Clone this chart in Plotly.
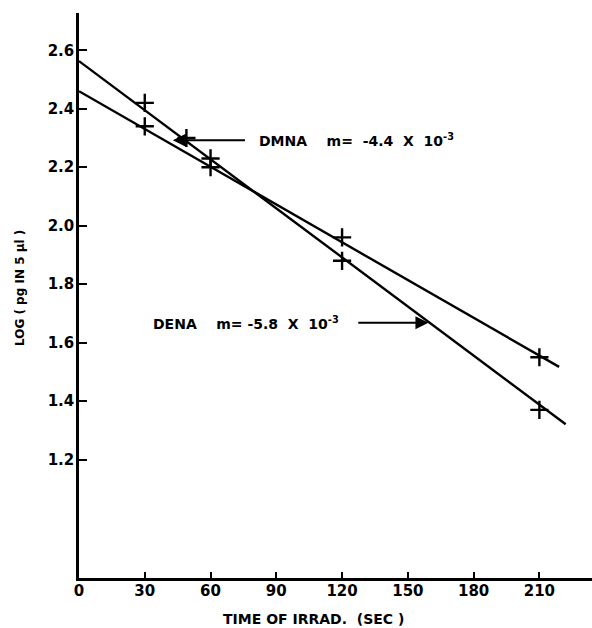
import plotly.graph_objects as go

# ---- data ----
time_sec = [30, 49, 60, 120, 210]
dena_log = [2.42, 2.30, 2.23, 1.88, 1.37]

time_dmna = [30, 60, 120, 210]
dmna_log = [2.34, 2.20, 1.96, 1.55]

# fitted straight lines (end points)
dena_fit_x = [0, 222]
dena_fit_y = [2.563, 1.321]
dmna_fit_x = [0, 219]
dmna_fit_y = [2.460, 1.517]

x_ticks = [0, 30, 60, 90, 120, 150, 180, 210]
y_ticks = [1.2, 1.4, 1.6, 1.8, 2.0, 2.2, 2.4, 2.6]
y_tick_text = ["1.2", "1.4", "1.6", "1.8", "2.0", "2.2", "2.4", "2.6"]

FONT = "DejaVu Sans"
W, H = 592, 628
ml, mr, mt, mb = 79, 0, 13, 50
pw, ph = W - ml - mr, H - mt - mb

fig = go.Figure()
for fx, fy in [(dena_fit_x, dena_fit_y), (dmna_fit_x, dmna_fit_y)]:
    fig.add_trace(go.Scatter(x=fx, y=fy, mode="lines",
                             line=dict(color="black", width=2.4), showlegend=False))
for px_, py_ in [(time_sec, dena_log), (time_dmna, dmna_log)]:
    fig.add_trace(go.Scatter(x=px_, y=py_, mode="markers",
                             marker=dict(symbol="cross-thin", size=13,
                                         line=dict(color="black", width=2.4)),
                             showlegend=False))

tickfont = dict(family=FONT, size=15, color="black", weight="bold")
fig.update_xaxes(range=[0, 234], tickvals=x_ticks, ticktext=[str(v) for v in x_ticks],
                 ticks="inside", ticklen=6, tickwidth=2, tickcolor="black",
                 showline=True, linecolor="black", linewidth=2.5,
                 showgrid=False, zeroline=False, tickfont=tickfont,
                 ticklabelstandoff=-3)
fig.update_yaxes(range=[0.795, 2.7275], tickvals=y_ticks, ticktext=y_tick_text,
                 ticks="inside", ticklen=8, tickwidth=2, tickcolor="black",
                 showline=True, linecolor="black", linewidth=2.5,
                 showgrid=False, zeroline=False, tickfont=tickfont,
                 ticklabelstandoff=-1)

annfont = dict(family=FONT, size=14, color="black", weight="bold")
sp = "&nbsp;"
# DMNA label + arrow
fig.add_annotation(x=42.8, y=2.292, ax=76.4, ay=2.292, axref="x", ayref="y",
                   xref="x", yref="y", text="", showarrow=True,
                   arrowhead=2, arrowsize=1.3, arrowwidth=2, arrowcolor="black")
fig.add_annotation(x=81.0, y=2.292, xref="x", yref="y", xanchor="left", yanchor="middle",
                   text=f"DMNA{sp*4}m={sp*2}-4.4{sp*2}X{sp*2}10<sup>-3</sup>", showarrow=False,
                   font=annfont)
# DENA label + arrow
fig.add_annotation(x=159.4, y=1.668, ax=126.7, ay=1.668, axref="x", ayref="y",
                   xref="x", yref="y", text="", showarrow=True,
                   arrowhead=2, arrowsize=1.3, arrowwidth=2, arrowcolor="black")
fig.add_annotation(x=33.0, y=1.668, xref="x", yref="y", xanchor="left", yanchor="middle",
                   text=f"DENA{sp*4}m={sp}-5.8{sp*2}X{sp*2}10<sup>-3</sup>", showarrow=False,
                   font=annfont)

# axis titles (positioned in paper coordinates)
titlefont = dict(family=FONT, size=14, color="black", weight="bold")
fig.add_annotation(x=(313 - ml) / pw, y=1 - (619 - mt) / ph, xref="paper", yref="paper",
                   xanchor="center", yanchor="middle",
                   text=f"TIME OF IRRAD.{sp*2}(SEC )", showarrow=False, font=titlefont)
fig.add_annotation(x=(20 - ml) / pw, y=1 - (288 - mt) / ph, xref="paper", yref="paper",
                   xanchor="center", yanchor="middle",
                   text="LOG ( pg IN 5 μl )", showarrow=False, textangle=-90,
                   font=dict(family=FONT, size=12, color="black", weight="bold"))

fig.update_layout(width=W, height=H, margin=dict(l=ml, r=mr, t=mt, b=mb),
                  plot_bgcolor="white", paper_bgcolor="white", showlegend=False)

fig.write_html("out.html", config={"displayModeBar": False},
               post_script="document.body.style.margin='0';document.body.style.overflow='hidden';")
